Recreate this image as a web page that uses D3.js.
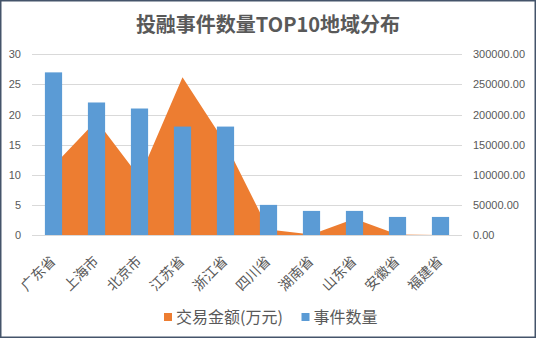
<!DOCTYPE html>
<html><head><meta charset="utf-8">
<script src="https://cdn.jsdelivr.net/npm/d3@7"></script>
<style>
html,body{margin:0;padding:0;background:#fff;}
svg{display:block;}
</style>
</head><body>
<svg id="chart" width="537" height="339"></svg>
<script>
const categories = ["广东省","上海市","北京市","江苏省","浙江省","四川省","湖南省","山东省","安徽省","福建省"];
const eventCounts = [27,22,21,18,18,5,4,4,3,3];
const dealAmounts = [115000,190000,96000,262000,152000,9000,800,27000,900,0];
const leftTicks = [0,5,10,15,20,25,30];
const rightTicks = [0,50000,100000,150000,200000,250000,300000];
const title = "投融事件数量TOP10地域分布";
const legendNames = ["交易金额(万元)","事件数量"];

const svg = d3.select("#chart");
const W = 537, H = 339;
const plot = {left:32, right:462, top:54.3, bottom:235};
const orange = "#ed7d31", blue = "#5b9bd5", txt = "#595959", grid = "#d9d9d9";
const cjk = "'Noto Sans CJK SC','Noto Sans',sans-serif";
const num = "'Liberation Sans',Arial,sans-serif";

svg.append("rect").attr("x",0.75).attr("y",0.75).attr("width",W-2.5).attr("height",H-2.5)
  .attr("fill","#fff").attr("stroke","#44546a").attr("stroke-width",1.5);

const x = d3.scaleBand().domain(categories).range([plot.left, plot.right]).paddingInner(0.6).paddingOuter(0.3);
const xc = d => x(d) + x.bandwidth()/2;
const yL = d3.scaleLinear().domain([0,30]).range([plot.bottom, plot.top]);
const yR = d3.scaleLinear().domain([0,300000]).range([plot.bottom, plot.top]);

// gridlines
svg.append("g").selectAll("line").data(leftTicks).join("line")
  .attr("x1",plot.left).attr("x2",plot.right)
  .attr("y1",d=>Math.round(yL(d))+0.5).attr("y2",d=>Math.round(yL(d))+0.5)
  .attr("stroke",grid).attr("stroke-width",1);

// left axis
const gl = svg.append("g").attr("transform",`translate(21,0)`)
  .call(d3.axisLeft(yL).tickValues(leftTicks).tickSize(0).tickPadding(0).tickFormat(d3.format("d")));
gl.select(".domain").remove();
gl.selectAll("text").attr("fill",txt).style("font-family",num).style("font-size","11px");

// right axis
const gr = svg.append("g").attr("transform",`translate(473,0)`)
  .call(d3.axisRight(yR).tickValues(rightTicks).tickSize(0).tickPadding(0).tickFormat(d3.format(".2f")));
gr.select(".domain").remove();
gr.selectAll("text").attr("fill",txt).style("font-family",num).style("font-size","11px");

// area
const area = d3.area().x((d,i)=>xc(categories[i])).y0(yR(0)).y1(d=>yR(d));
svg.append("path").datum(dealAmounts).attr("d",area).attr("fill",orange);

// bars
svg.append("g").selectAll("rect").data(eventCounts).join("rect")
  .attr("x",(d,i)=>x(categories[i])).attr("width",x.bandwidth())
  .attr("y",d=>yL(d)).attr("height",d=>yL(0)-yL(d)).attr("fill",blue);

// category labels
svg.append("g").selectAll("text").data(categories).join("text")
  .attr("transform",d=>`translate(${xc(d)+3},262) rotate(-45)`)
  .attr("text-anchor","end").attr("fill",txt)
  .style("font-family",cjk).style("font-size","14px").text(d=>d);

// title
svg.append("text").attr("x",268).attr("y",32).attr("text-anchor","middle")
  .attr("fill",txt).style("font-family",cjk).style("font-size","20px").style("font-weight","bold")
  .text(title);

// legend
const lg = svg.append("g");
const legendX = [164, 301.5];
const legendColors = [orange, blue];
legendNames.forEach((n,i)=>{
  lg.append("rect").attr("x",legendX[i]).attr("y",313).attr("width",8).attr("height",8).attr("fill",legendColors[i]);
  lg.append("text").attr("x",legendX[i]+12).attr("y",322.5).attr("fill",txt)
    .style("font-family",cjk).style("font-size","16px").text(n);
});
</script>
</body></html>
